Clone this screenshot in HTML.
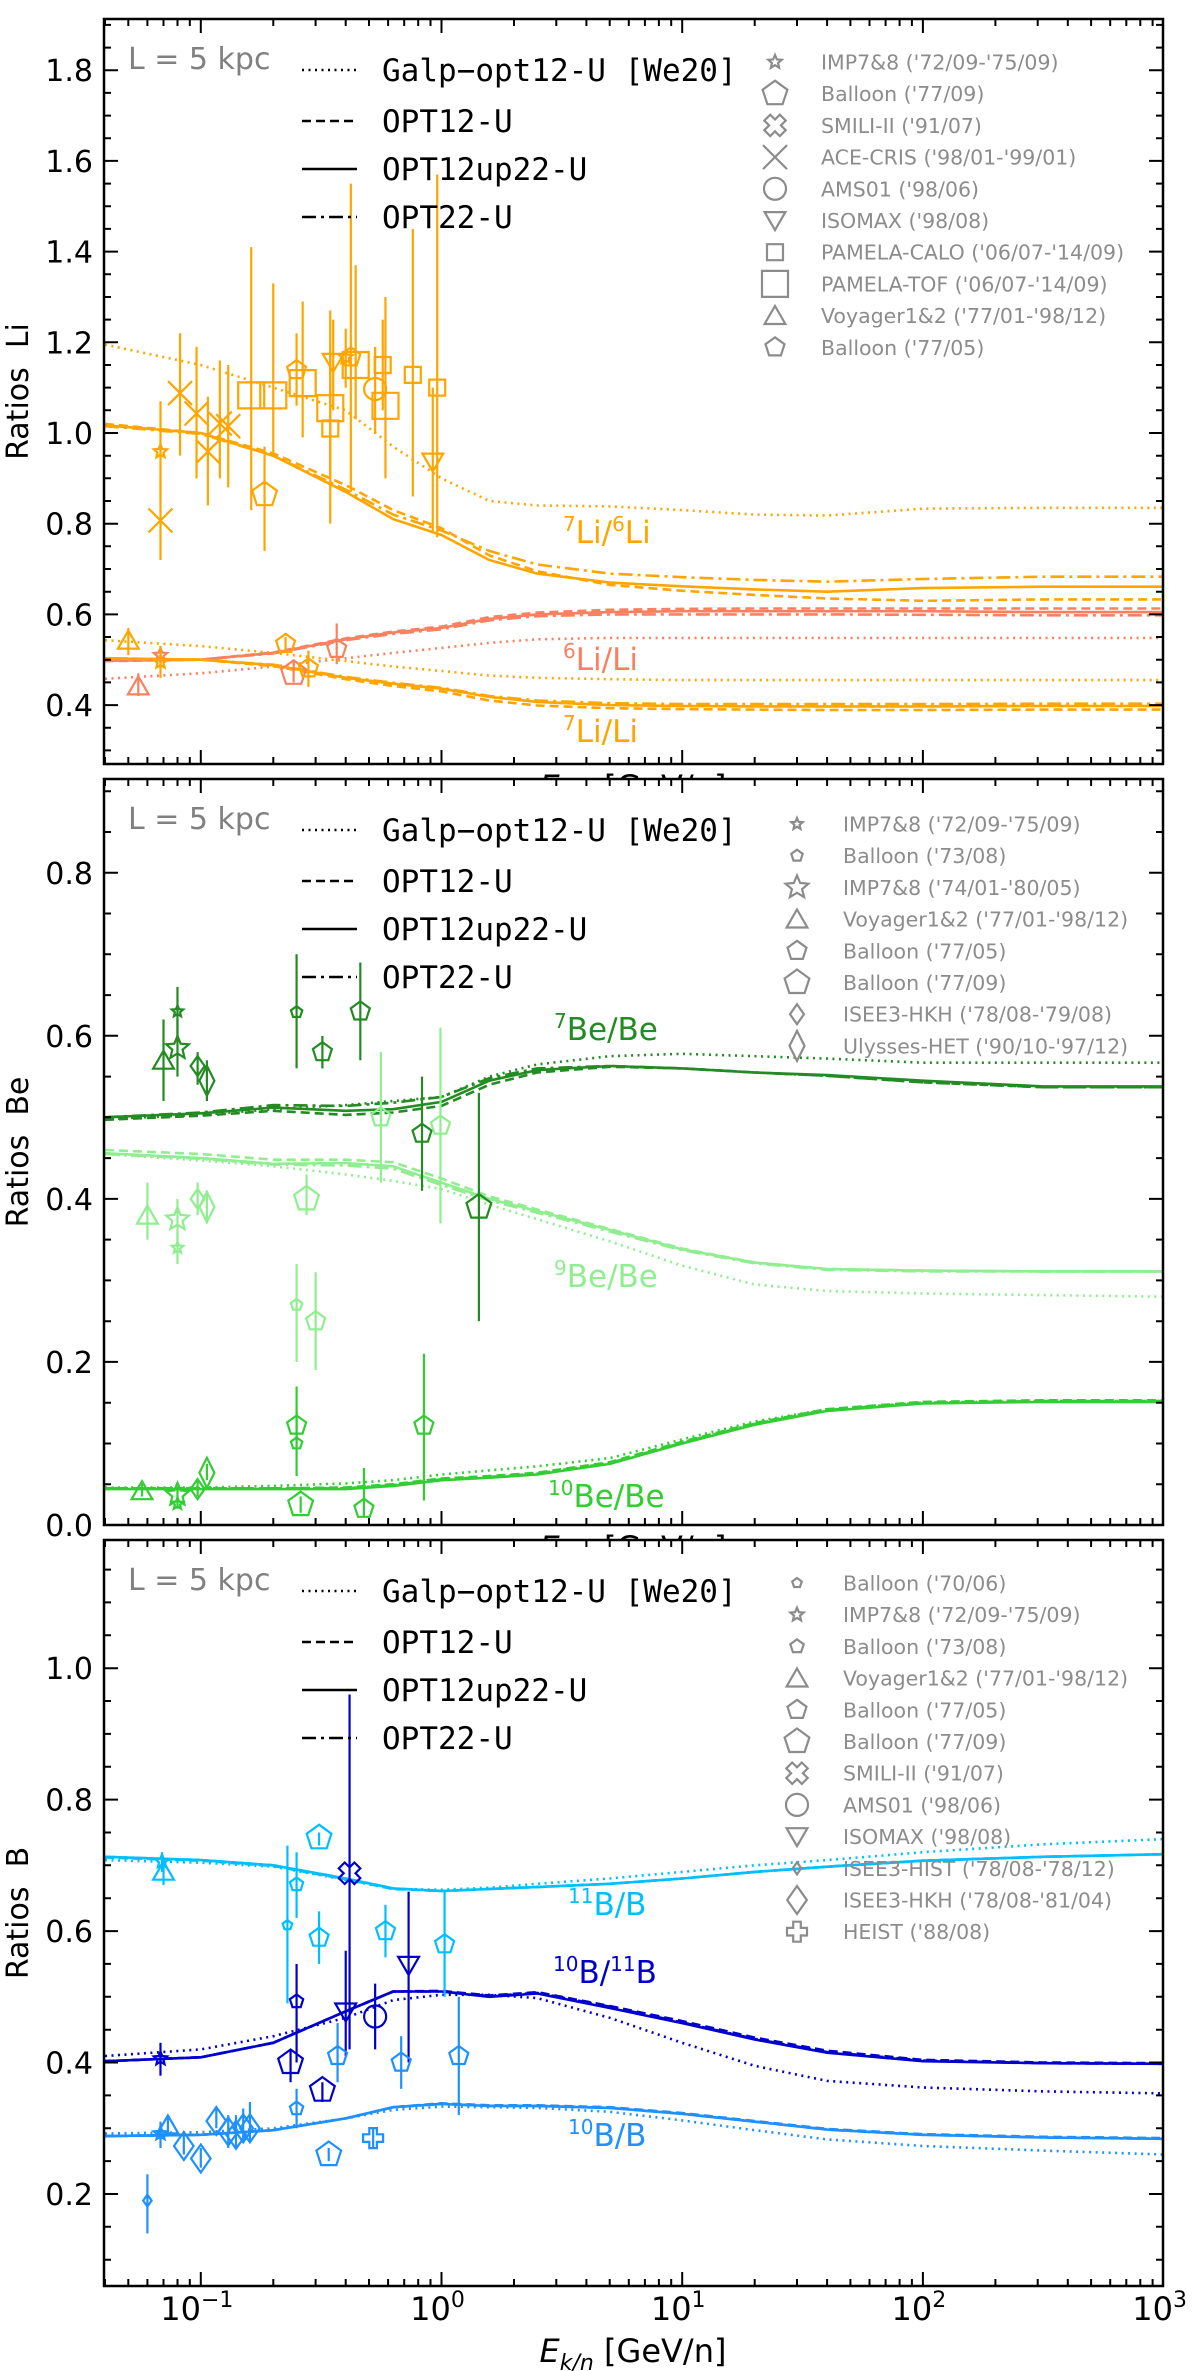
<!DOCTYPE html>
<html><head><meta charset="utf-8">
<style>
html,body{margin:0;padding:0;background:#fff;}
svg{display:block;font-family:"DejaVu Sans","Liberation Sans",sans-serif;}
</style></head>
<body>
<svg id="chart" width="1200" height="2371" viewBox="0 0 1200 2371" xmlns="http://www.w3.org/2000/svg"></svg>
<script>
// ---------- shared energy grid (GeV/n) ----------
const energies = [0.04,0.1,0.2,0.4,0.63,1,1.58,2.5,5,10,20,40,100,316,1000];

// ---------- Panel 1: Li ----------
const li76Dotted  = [1.195,1.15,1.1,1.05,0.97,0.9,0.85,0.84,0.838,0.83,0.82,0.818,0.833,0.835,0.835];
const li76Dashed  = [1.02,1.0,0.955,0.885,0.83,0.79,0.73,0.695,0.665,0.652,0.643,0.635,0.63,0.633,0.633];
const li76Solid   = [1.017,1.0,0.95,0.87,0.81,0.775,0.72,0.69,0.67,0.662,0.655,0.65,0.658,0.661,0.661];
const li76DotDash = [1.015,0.998,0.95,0.875,0.82,0.785,0.74,0.71,0.69,0.682,0.676,0.672,0.678,0.683,0.683];
const li6Dotted   = [0.458,0.47,0.485,0.503,0.515,0.526,0.537,0.545,0.548,0.548,0.548,0.548,0.548,0.548,0.548];
const li6Dashed   = [0.497,0.5,0.516,0.547,0.562,0.573,0.594,0.604,0.61,0.612,0.613,0.613,0.613,0.613,0.613];
const li6Solid    = [0.498,0.5,0.515,0.545,0.56,0.57,0.59,0.6,0.605,0.607,0.607,0.607,0.607,0.605,0.605];
const li6DotDash  = [0.498,0.5,0.514,0.543,0.557,0.567,0.587,0.596,0.6,0.6,0.6,0.6,0.599,0.598,0.598];
const li7Dotted   = [0.543,0.53,0.515,0.497,0.485,0.475,0.465,0.46,0.457,0.455,0.455,0.455,0.455,0.455,0.455];
const li7Dashed   = [0.503,0.5,0.486,0.457,0.442,0.43,0.41,0.399,0.393,0.391,0.39,0.389,0.389,0.39,0.39];
const li7Solid    = [0.503,0.5,0.488,0.46,0.447,0.436,0.418,0.407,0.4,0.398,0.397,0.397,0.397,0.398,0.398];
const li7DotDash  = [0.503,0.5,0.489,0.462,0.449,0.438,0.42,0.41,0.404,0.402,0.402,0.402,0.402,0.403,0.403];

const liExps = ["IMP7&8 ('72/09-'75/09)","Balloon ('77/09)","SMILI-II ('91/07)","ACE-CRIS ('98/01-'99/01)","AMS01 ('98/06)","ISOMAX ('98/08)","PAMELA-CALO ('06/07-'14/09)","PAMELA-TOF ('06/07-'14/09)","Voyager1&2 ('77/01-'98/12)","Balloon ('77/05)"];
const li76PtE   = [0.068,0.068,0.082,0.096,0.107,0.12,0.13,0.162,0.2,0.184,0.25,0.265,0.345,0.345,0.355,0.4,0.42,0.44,0.53,0.585,0.57,0.76,0.96,0.92];
const li76PtV   = [0.959,0.807,1.088,1.043,0.959,1.021,1.015,1.083,1.083,0.864,1.139,1.11,1.055,1.01,1.156,1.167,1.167,1.15,1.097,1.06,1.15,1.128,1.1,0.936];
const li76PtLo  = [0.86,0.72,0.95,0.9,0.84,0.9,0.88,0.83,0.95,0.74,1.06,0.99,0.9,0.8,1.05,1.1,0.87,1.03,1.0,0.9,1.05,0.86,0.77,0.78];
const li76PtHi  = [1.07,0.9,1.22,1.19,1.08,1.16,1.15,1.41,1.33,0.97,1.22,1.29,1.27,1.18,1.25,1.23,1.55,1.37,1.19,1.3,1.25,1.45,1.57,1.1];
const li76PtExp = [0,3,3,3,3,3,3,7,7,1,9,7,7,6,5,0,9,7,4,7,6,6,6,5];
const li6PtE   = [0.055,0.068,0.243,0.367];
const li6PtV   = [0.442,0.51,0.47,0.524];
const li6PtLo  = [0.42,0.49,0.45,0.49];
const li6PtHi  = [0.47,0.53,0.5,0.58];
const li6PtExp = [8,0,1,9];
const li7PtE   = [0.05,0.068,0.225,0.28];
const li7PtV   = [0.543,0.495,0.535,0.481];
const li7PtLo  = [0.51,0.46,0.52,0.44];
const li7PtHi  = [0.57,0.53,0.55,0.52];
const li7PtExp = [8,0,9,9];

// ---------- Panel 2: Be ----------
const be7Dotted   = [0.498,0.503,0.51,0.515,0.52,0.525,0.55,0.565,0.575,0.578,0.575,0.572,0.567,0.567,0.567];
const be7Dashed   = [0.497,0.502,0.508,0.503,0.506,0.514,0.54,0.555,0.562,0.56,0.555,0.551,0.543,0.537,0.537];
const be7Solid    = [0.5,0.505,0.512,0.508,0.51,0.519,0.545,0.558,0.563,0.56,0.555,0.552,0.545,0.538,0.538];
const be7DotDash  = [0.5,0.506,0.515,0.514,0.518,0.525,0.548,0.56,0.563,0.56,0.555,0.551,0.543,0.537,0.537];
const be9Dotted   = [0.455,0.447,0.44,0.43,0.422,0.412,0.393,0.375,0.348,0.318,0.295,0.287,0.284,0.282,0.28];
const be9Dashed   = [0.46,0.455,0.448,0.448,0.445,0.425,0.403,0.387,0.363,0.339,0.322,0.314,0.312,0.311,0.311];
const be9Solid    = [0.456,0.45,0.443,0.444,0.44,0.42,0.4,0.385,0.362,0.338,0.322,0.314,0.312,0.311,0.311];
const be9DotDash  = [0.455,0.449,0.442,0.441,0.437,0.417,0.398,0.383,0.36,0.337,0.321,0.313,0.311,0.311,0.311];
const be10Dotted  = [0.046,0.046,0.048,0.051,0.055,0.062,0.067,0.072,0.082,0.105,0.127,0.142,0.15,0.152,0.152];
const be10Dashed  = [0.045,0.045,0.045,0.046,0.05,0.057,0.06,0.064,0.077,0.102,0.125,0.142,0.151,0.153,0.153];
const be10Solid   = [0.044,0.044,0.044,0.044,0.048,0.055,0.058,0.062,0.075,0.1,0.123,0.14,0.149,0.151,0.151];
const be10DotDash = [0.045,0.045,0.045,0.045,0.049,0.056,0.059,0.063,0.076,0.101,0.124,0.141,0.15,0.152,0.152];

const beExps = ["IMP7&8 ('72/09-'75/09)","Balloon ('73/08)","IMP7&8 ('74/01-'80/05)","Voyager1&2 ('77/01-'98/12)","Balloon ('77/05)","Balloon ('77/09)","ISEE3-HKH ('78/08-'79/08)","Ulysses-HET ('90/10-'97/12)"];
const be7PtE   = [0.07,0.08,0.08,0.097,0.106,0.25,0.32,0.46,0.83,1.43];
const be7PtV   = [0.57,0.63,0.585,0.563,0.545,0.629,0.58,0.63,0.48,0.39];
const be7PtLo  = [0.52,0.6,0.55,0.54,0.52,0.56,0.56,0.57,0.41,0.25];
const be7PtHi  = [0.62,0.66,0.62,0.58,0.57,0.7,0.6,0.69,0.55,0.53];
const be7PtExp = [3,0,2,6,7,1,4,4,4,5];
const be9PtE   = [0.06,0.08,0.08,0.097,0.106,0.275,0.25,0.3,0.56,0.99];
const be9PtV   = [0.38,0.375,0.34,0.4,0.39,0.4,0.27,0.25,0.5,0.49];
const be9PtLo  = [0.35,0.35,0.32,0.38,0.37,0.38,0.2,0.19,0.42,0.37];
const be9PtHi  = [0.42,0.4,0.36,0.42,0.41,0.43,0.32,0.31,0.58,0.61];
const be9PtExp = [3,2,0,6,7,5,1,4,4,4];
const be10PtE   = [0.057,0.08,0.08,0.097,0.106,0.25,0.25,0.26,0.476,0.845];
const be10PtV   = [0.042,0.037,0.026,0.044,0.064,0.122,0.1,0.025,0.02,0.122];
const be10PtLo  = [0.035,0.03,0.02,0.035,0.055,0.1,0.06,0.015,0.01,0.03];
const be10PtHi  = [0.05,0.045,0.035,0.055,0.075,0.17,0.14,0.035,0.07,0.21];
const be10PtExp = [3,2,0,6,7,4,1,5,4,4];

// ---------- Panel 3: B ----------
const b11Dotted   = [0.708,0.704,0.698,0.678,0.664,0.663,0.666,0.672,0.68,0.69,0.7,0.708,0.72,0.732,0.74];
const b11Dashed   = [0.712,0.707,0.699,0.679,0.664,0.661,0.664,0.667,0.672,0.68,0.69,0.698,0.707,0.713,0.717];
const b11Solid    = [0.713,0.708,0.7,0.68,0.665,0.661,0.664,0.667,0.672,0.68,0.69,0.698,0.707,0.713,0.717];
const b11DotDash  = [0.713,0.708,0.7,0.68,0.665,0.661,0.664,0.667,0.672,0.68,0.69,0.698,0.707,0.713,0.717];
const b1011Dotted = [0.41,0.42,0.44,0.468,0.495,0.503,0.503,0.498,0.468,0.43,0.395,0.372,0.362,0.356,0.353];
const b1011Dashed = [0.402,0.408,0.43,0.478,0.508,0.509,0.502,0.507,0.486,0.463,0.438,0.418,0.404,0.4,0.399];
const b1011Solid  = [0.402,0.408,0.43,0.478,0.508,0.508,0.5,0.505,0.483,0.46,0.435,0.415,0.402,0.399,0.398];
const b1011DotDash= [0.402,0.408,0.43,0.478,0.508,0.508,0.501,0.506,0.485,0.461,0.436,0.416,0.403,0.399,0.398];
const b10Dotted   = [0.292,0.294,0.3,0.315,0.328,0.333,0.332,0.331,0.325,0.312,0.297,0.283,0.273,0.266,0.26];
const b10Dashed   = [0.288,0.29,0.297,0.315,0.332,0.338,0.335,0.335,0.332,0.323,0.311,0.299,0.291,0.287,0.285];
const b10Solid    = [0.288,0.29,0.297,0.315,0.332,0.337,0.334,0.334,0.331,0.322,0.31,0.298,0.29,0.286,0.284];
const b10DotDash  = [0.288,0.29,0.297,0.315,0.332,0.337,0.334,0.334,0.331,0.322,0.31,0.298,0.29,0.286,0.284];

const bExps = ["Balloon ('70/06)","IMP7&8 ('72/09-'75/09)","Balloon ('73/08)","Voyager1&2 ('77/01-'98/12)","Balloon ('77/05)","Balloon ('77/09)","SMILI-II ('91/07)","AMS01 ('98/06)","ISOMAX ('98/08)","ISEE3-HIST ('78/08-'78/12)","ISEE3-HKH ('78/08-'81/04)","HEIST ('88/08)"];
const b11PtE   = [0.069,0.07,0.229,0.25,0.31,0.31,0.585,1.03];
const b11PtV   = [0.706,0.691,0.609,0.671,0.742,0.59,0.6,0.58];
const b11PtLo  = [0.69,0.67,0.49,0.62,0.73,0.55,0.56,0.5];
const b11PtHi  = [0.72,0.71,0.73,0.72,0.75,0.63,0.64,0.66];
const b11PtExp = [1,3,0,2,5,4,4,4];
const b1011PtE   = [0.068,0.25,0.236,0.32,0.415,0.4,0.53,0.73];
const b1011PtV   = [0.406,0.493,0.4,0.358,0.688,0.477,0.47,0.548];
const b1011PtLo  = [0.38,0.4,0.37,0.34,0.42,0.41,0.42,0.4];
const b1011PtHi  = [0.43,0.55,0.42,0.37,0.96,0.57,0.52,0.66];
const b1011PtExp = [1,2,5,5,6,8,7,8];
const b10PtE   = [0.06,0.068,0.073,0.085,0.1,0.116,0.13,0.14,0.15,0.16,0.25,0.34,0.37,0.68,1.18,0.52];
const b10PtV   = [0.19,0.292,0.305,0.273,0.254,0.311,0.295,0.29,0.3,0.3,0.33,0.26,0.41,0.4,0.41,0.285];
const b10PtLo  = [0.14,0.27,0.29,0.26,0.24,0.3,0.27,0.27,0.28,0.28,0.3,0.25,0.37,0.36,0.32,0.27];
const b10PtHi  = [0.23,0.31,0.32,0.29,0.27,0.33,0.32,0.32,0.33,0.34,0.36,0.27,0.46,0.44,0.5,0.3];
const b10PtExp = [9,1,3,10,10,10,10,10,10,10,2,5,4,4,4,11];

// ---------- drawing ----------
const NS = "http://www.w3.org/2000/svg";
const svg = document.getElementById('chart');
const X0 = 104, X1 = 1163;
function X(E){ return 441.5 + 240.7*Math.log10(E); }
function el(tag, attrs, parent){
  const e = document.createElementNS(NS, tag);
  for (const k in attrs) e.setAttribute(k, attrs[k]);
  (parent||svg).appendChild(e);
  return e;
}
const DASH = {dotted:"2,4.5", dashed:"9,5", solid:"", dotdash:"14,5,3,5"};

function poly(n, r, rot){ const p=[]; for(let i=0;i<n;i++){const a=rot+i*2*Math.PI/n; p.push([r*Math.sin(a), -r*Math.cos(a)]);} return p; }
function sym(g, type, cx, cy, r, col){
  let pts = null;
  const sw = 2.2;
  if (type==='star'){ pts=[]; for(let i=0;i<10;i++){const rr=i%2?r*0.45:r; const a=i*Math.PI/5; pts.push([rr*Math.sin(a),-rr*Math.cos(a)]);} }
  else if (type==='pent'){ pts = poly(5, r, 0); }
  else if (type==='tri'){ pts = poly(3, r, 0).map(p=>[p[0],p[1]+r*0.2]); }
  else if (type==='tridown'){ pts = poly(3, r, Math.PI).map(p=>[p[0],p[1]-r*0.2]); }
  else if (type==='diam'){ pts=[[0,-r],[0.7*r,0],[0,r],[-0.7*r,0]]; }
  else if (type==='diamtall'){ pts=[[0,-r],[0.5*r,0],[0,r],[-0.5*r,0]]; }
  else if (type==='sq'){ pts=[[-r,-r],[r,-r],[r,r],[-r,r]]; }
  else if (type==='plus' || type==='smili'){
    const w=r*0.38; pts=[[-w,-r],[w,-r],[w,-w],[r,-w],[r,w],[w,w],[w,r],[-w,r],[-w,w],[-r,w],[-r,-w],[-w,-w]];
    if (type==='smili'){ const c=Math.SQRT1_2; pts=pts.map(p=>[(p[0]-p[1])*c,(p[0]+p[1])*c]); }
  }
  let m;
  if (type==='circ'){ m = el('circle',{cx:cx,cy:cy,r:r,fill:'none',stroke:col,'stroke-width':sw},g); }
  else if (type==='x'){
    m = el('path',{d:`M${cx-r},${cy-r}L${cx+r},${cy+r}M${cx-r},${cy+r}L${cx+r},${cy-r}`,stroke:col,'stroke-width':sw,fill:'none'},g);
  } else {
    m = el('polygon',{points:pts.map(p=>(cx+p[0]).toFixed(1)+','+(cy+p[1]).toFixed(1)).join(' '),fill:'none',stroke:col,'stroke-width':sw,'stroke-linejoin':'miter'},g);
  }
  return m;
}

const liStyle = [['star',7],['pent',13],['smili',11],['x',12],['circ',11],['tridown',12],['sq',8],['sq',13],['tri',12],['pent',10]];
const beStyle = [['star',6],['pent',6],['star',12],['tri',12],['pent',10],['pent',13],['diam',10],['diamtall',15]];
const bStyle  = [['pent',5],['star',7],['pent',7],['tri',12],['pent',10],['pent',13],['smili',11],['circ',11],['tridown',12],['diam',6],['diam',14],['plus',10]];

function panel(cfg){
  const {name, top, bot, ymin, ymax, yticks, ylabel, series, legendExps, legendStyle, legX, legY, showX} = cfg;
  const Y = v => bot - (v-ymin)/(ymax-ymin)*(bot-top);
  const g = el('g',{});  
  el('rect',{x:X0,y:top,width:X1-X0,height:bot-top,fill:'#fff'},g);
  const clip = el('clipPath',{id:'clip-'+name},g);
  el('rect',{x:X0,y:top,width:X1-X0,height:bot-top},clip);
  const plot = el('g',{'clip-path':`url(#clip-${name})`},g);
  for (const s of series){
    const sg = el('g',{},plot);
    
    
    for (const kind of ['dotted','dashed','solid','dotdash']){
      const vals = s.curves[kind];
      const d = vals.map((v,i)=>(i?'L':'M')+X(energies[i]).toFixed(1)+','+Y(v).toFixed(1)).join('');
      const p = el('path',{d:d,fill:'none',stroke:s.color,'stroke-width':2.6,'stroke-dasharray':DASH[kind],'stroke-linejoin':'round'},sg);
      
      
    }
  }
  for (const s of series){
    const pg = el('g',{},plot);
    
    
    for (let i=0;i<s.pE.length;i++){
      const cx = X(s.pE[i]);
      const eb = el('line',{x1:cx,x2:cx,y1:Y(s.pLo[i]),y2:Y(s.pHi[i]),stroke:s.color,'stroke-width':2.2},pg);
      
      
      const st = legendStyle[s.pExp[i]];
      const m = sym(pg, st[0], cx, Y(s.pV[i]), st[1], s.color);
      
      
    }
  }
  for (const s of series){
    const t = el('text',{x:s.lx,y:s.ly,fill:s.color,'font-size':31},g);
    t.innerHTML = s.label;
    
    
  }
  const fr = el('rect',{x:X0,y:top,width:X1-X0,height:bot-top,fill:'none',stroke:'#000','stroke-width':2.5},g);
  
  
  let tk = '';
  for (let dec=-2; dec<=3; dec++){
    for (let m=1;m<10;m++){
      const E = m*Math.pow(10,dec); const x = X(E);
      if (x < X0+1 || x > X1+0.5) continue;
      const L = m===1?14:7;
      tk += `M${x.toFixed(1)},${bot}v${-L}M${x.toFixed(1)},${top}v${L}`;
    }
  }
  const yStep = 0.05;
  for (let v=Math.ceil(ymin/yStep-1e-6)*yStep; v<=ymax+1e-9; v+=yStep){
    const y = Y(v); const maj = Math.abs(Math.round(v*5)-v*5)<1e-6;
    const L = maj?14:7;
    tk += `M${X0},${y.toFixed(1)}h${L}M${X1},${y.toFixed(1)}h${-L}`;
  }
  const tp = el('path',{d:tk,stroke:'#000','stroke-width':2,fill:'none'},g);
  
  
  for (const v of yticks){
    const t = el('text',{x:93,y:Y(v)+11,'text-anchor':'end','font-size':30,fill:'#000'},g);
    t.textContent = v.toFixed(1);
    
    
  }
  const yl = el('text',{x:0,y:0,'font-size':30,'text-anchor':'middle',transform:`translate(28,${(top+bot)/2}) rotate(-90)`,style:'white-space:pre'},g);
  yl.textContent = ylabel;
  
  
  const lk = el('text',{x:128,y:top+50,'font-size':30,fill:'#808080'},g);
  lk.textContent = 'L = 5 kpc';
  
  
  const models = [['dotted','Galp\u2212opt12-U [We20]'],['dashed','OPT12-U'],['solid','OPT12up22-U'],['dotdash','OPT22-U']];
  const offs = [51,102,150,198];
  const ml = el('g',{},g);
  
  
  models.forEach((m,i)=>{
    const y = top+offs[i];
    const ln = el('line',{x1:302,x2:357,y1:y,y2:y,stroke:'#000','stroke-width':2.6,'stroke-dasharray':DASH[m[0]]},ml);
    
    
    const t = el('text',{x:382,y:y+11,'font-size':31,'font-family':'"DejaVu Sans Mono","Liberation Mono",monospace'},ml);
    t.textContent = m[1];
    
    
  });
  const el2 = el('g',{},g);
  
  
  legendExps.forEach((nm,i)=>{
    const y = top+legY+i*31.7;
    const st = legendStyle[i];
    const m = sym(el2, st[0], legX, y, st[1], '#8c8c8c');
    
    
    const t = el('text',{x:legX+46,y:y+7.5,'font-size':20.5,fill:'#8c8c8c'},el2);
    t.textContent = nm;
    
    
  });
  const xl = el('text',{x:633,y:showX?2362:bot+34,'font-size':32,'text-anchor':'middle'},g);
  xl.innerHTML = '<tspan font-style="italic">E</tspan><tspan font-style="italic" font-size="22" dy="8">k/n</tspan><tspan dy="-8"> [GeV/n]</tspan>';
  
  
  if (showX){
    [-1,0,1,2,3].forEach(p=>{
      const t = el('text',{x:X(Math.pow(10,p))-4,y:2320,'font-size':32,'text-anchor':'middle'},g);
      t.innerHTML = '10<tspan font-size="22" dy="-13">'+(p<0?'\u2212'+(-p):p)+'</tspan>';
      
      
    });
  }
}

panel({name:'li', top:19, bot:764, ymin:0.27, ymax:1.913, yticks:[0.4,0.6,0.8,1.0,1.2,1.4,1.6,1.8], ylabel:'Ratios  Li',
  legendExps:liExps, legendStyle:liStyle, legX:775, legY:43, showX:false,
  series:[
    {id:'li7-li6', color:'#FFA500', curves:{dotted:li76Dotted,dashed:li76Dashed,solid:li76Solid,dotdash:li76DotDash}, pE:li76PtE,pV:li76PtV,pLo:li76PtLo,pHi:li76PtHi,pExp:li76PtExp, label:'<tspan font-size="20" dy="-12">7</tspan><tspan dy="12">Li/</tspan><tspan font-size="20" dy="-12">6</tspan><tspan dy="12">Li</tspan>', lx:563, ly:543},
    {id:'li6-li', color:'#FA8060', curves:{dotted:li6Dotted,dashed:li6Dashed,solid:li6Solid,dotdash:li6DotDash}, pE:li6PtE,pV:li6PtV,pLo:li6PtLo,pHi:li6PtHi,pExp:li6PtExp, label:'<tspan font-size="20" dy="-12">6</tspan><tspan dy="12">Li/Li</tspan>', lx:563, ly:670},
    {id:'li7-li', color:'#FFA500', curves:{dotted:li7Dotted,dashed:li7Dashed,solid:li7Solid,dotdash:li7DotDash}, pE:li7PtE,pV:li7PtV,pLo:li7PtLo,pHi:li7PtHi,pExp:li7PtExp, label:'<tspan font-size="20" dy="-12">7</tspan><tspan dy="12">Li/Li</tspan>', lx:563, ly:742}
  ]});
panel({name:'be', top:779, bot:1525, ymin:0, ymax:0.915, yticks:[0.0,0.2,0.4,0.6,0.8], ylabel:'Ratios  Be',
  legendExps:beExps, legendStyle:beStyle, legX:797, legY:45, showX:false,
  series:[
    {id:'be7-be', color:'#228B22', curves:{dotted:be7Dotted,dashed:be7Dashed,solid:be7Solid,dotdash:be7DotDash}, pE:be7PtE,pV:be7PtV,pLo:be7PtLo,pHi:be7PtHi,pExp:be7PtExp, label:'<tspan font-size="20" dy="-12">7</tspan><tspan dy="12">Be/Be</tspan>', lx:554, ly:1040},
    {id:'be9-be', color:'#90EE90', curves:{dotted:be9Dotted,dashed:be9Dashed,solid:be9Solid,dotdash:be9DotDash}, pE:be9PtE,pV:be9PtV,pLo:be9PtLo,pHi:be9PtHi,pExp:be9PtExp, label:'<tspan font-size="20" dy="-12">9</tspan><tspan dy="12">Be/Be</tspan>', lx:554, ly:1287},
    {id:'be10-be', color:'#32CD32', curves:{dotted:be10Dotted,dashed:be10Dashed,solid:be10Solid,dotdash:be10DotDash}, pE:be10PtE,pV:be10PtV,pLo:be10PtLo,pHi:be10PtHi,pExp:be10PtExp, label:'<tspan font-size="20" dy="-12">10</tspan><tspan dy="12">Be/Be</tspan>', lx:548, ly:1507}
  ]});
panel({name:'b', top:1540, bot:2286, ymin:0.06, ymax:1.195, yticks:[0.2,0.4,0.6,0.8,1.0], ylabel:'Ratios  B',
  legendExps:bExps, legendStyle:bStyle, legX:797, legY:43, showX:true,
  series:[
    {id:'b11-b', color:'#00BFFF', curves:{dotted:b11Dotted,dashed:b11Dashed,solid:b11Solid,dotdash:b11DotDash}, pE:b11PtE,pV:b11PtV,pLo:b11PtLo,pHi:b11PtHi,pExp:b11PtExp, label:'<tspan font-size="20" dy="-12">11</tspan><tspan dy="12">B/B</tspan>', lx:568, ly:1915},
    {id:'b10-b11', color:'#0000CD', curves:{dotted:b1011Dotted,dashed:b1011Dashed,solid:b1011Solid,dotdash:b1011DotDash}, pE:b1011PtE,pV:b1011PtV,pLo:b1011PtLo,pHi:b1011PtHi,pExp:b1011PtExp, label:'<tspan font-size="20" dy="-12">10</tspan><tspan dy="12">B/</tspan><tspan font-size="20" dy="-12">11</tspan><tspan dy="12">B</tspan>', lx:553, ly:1983},
    {id:'b10-b', color:'#1E90FF', curves:{dotted:b10Dotted,dashed:b10Dashed,solid:b10Solid,dotdash:b10DotDash}, pE:b10PtE,pV:b10PtV,pLo:b10PtLo,pHi:b10PtHi,pExp:b10PtExp, label:'<tspan font-size="20" dy="-12">10</tspan><tspan dy="12">B/B</tspan>', lx:568, ly:2146}
  ]});
</script>
</body></html>
